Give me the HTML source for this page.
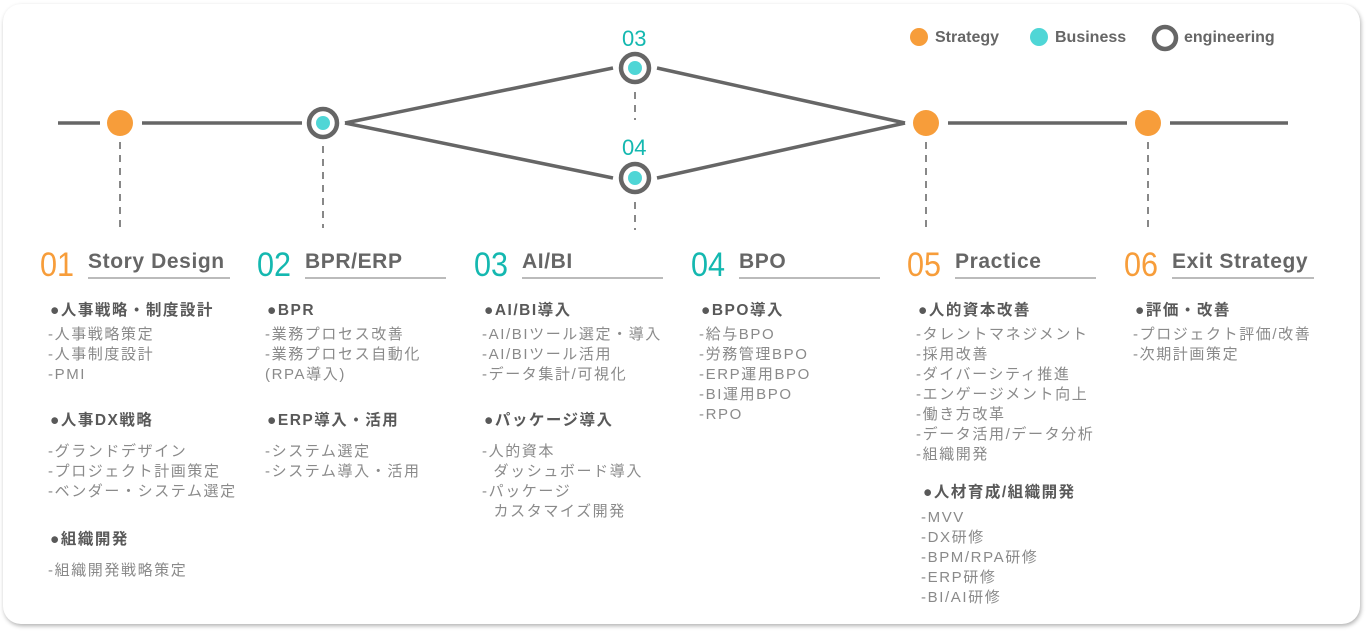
<!DOCTYPE html>
<html><head><meta charset="utf-8"><style>
body{margin:0;background:#fff;width:1372px;height:634px;position:relative;overflow:hidden;font-family:"Liberation Sans","Noto Sans CJK JP",sans-serif}
.card{position:absolute;left:3px;top:4px;width:1357px;height:620px;border-radius:18px;background:#fff;box-shadow:1px 2px 4px rgba(0,0,0,.3)}
.t{position:absolute;white-space:nowrap;font-size:15px;line-height:20px}
.h{color:#595959;font-weight:bold;letter-spacing:1.5px;font-size:15.5px}
.i{color:#8a8a8a;letter-spacing:1.6px}
.num{position:absolute;font-size:34px;line-height:36px;top:247px;transform:scaleX(.9);transform-origin:left}
.ttl{position:absolute;top:248px;font-size:21px;font-weight:bold;color:#666;border-bottom:2px solid #bbb;height:29px;line-height:28px;letter-spacing:.6px}
.o{color:#f79d3a}.c{color:#14b8b0}
.lg{position:absolute;top:28px;font-size:16px;font-weight:bold;color:#666;line-height:20px}
</style></head><body>
<div class="card"></div>
<svg style="position:absolute;left:0;top:0" width="1372" height="634">
<g stroke="#666" stroke-width="3.5" fill="none">
<line x1="58" y1="123" x2="100" y2="123"/><line x1="142" y1="123" x2="302" y2="123"/>
<line x1="948" y1="123" x2="1127" y2="123"/><line x1="1170" y1="123" x2="1288" y2="123"/>
<line x1="345" y1="123" x2="613" y2="68"/><line x1="345" y1="123" x2="613" y2="178"/>
<line x1="657" y1="68" x2="905" y2="123"/><line x1="657" y1="178" x2="905" y2="123"/>
</g>
<g stroke="#888" stroke-width="2" stroke-dasharray="7,6">
<line x1="120" y1="142" x2="120" y2="230"/><line x1="323" y1="146" x2="323" y2="228"/>
<line x1="635" y1="92" x2="635" y2="120"/><line x1="635" y1="202" x2="635" y2="230"/>
<line x1="926" y1="142" x2="926" y2="230"/><line x1="1148" y1="142" x2="1148" y2="230"/>
</g>
<g fill="#f79d3a"><circle cx="120" cy="123" r="13"/><circle cx="926" cy="123" r="13"/><circle cx="1148" cy="123" r="13"/><circle cx="919" cy="37" r="9"/></g>
<g fill="#fff" stroke="#666" stroke-width="4.5"><circle cx="323" cy="123" r="14"/><circle cx="635" cy="68" r="14"/><circle cx="635" cy="178" r="14"/><circle cx="1165" cy="38" r="11"/></g>
<g fill="#4fd6d6"><circle cx="323" cy="123" r="7"/><circle cx="635" cy="68" r="7"/><circle cx="635" cy="178" r="7"/><circle cx="1039" cy="37" r="9"/></g>
</svg>
<div class="lg" style="left:935px">Strategy</div>
<div class="lg" style="left:1055px">Business</div>
<div class="lg" style="left:1184px">engineering</div>
<div class="t c" style="left:622px;top:28px;font-size:22px;line-height:22px">03</div>
<div class="t c" style="left:622px;top:137px;font-size:22px;line-height:22px">04</div>

<div class="num o" style="left:40px">01</div><div class="ttl" style="left:88px;width:142px">Story Design</div>
<div class="num c" style="left:257px">02</div><div class="ttl" style="left:305px;width:141px">BPR/ERP</div>
<div class="num c" style="left:474px">03</div><div class="ttl" style="left:522px;width:141px">AI/BI</div>
<div class="num c" style="left:691px">04</div><div class="ttl" style="left:739px;width:141px">BPO</div>
<div class="num o" style="left:907px">05</div><div class="ttl" style="left:955px;width:141px">Practice</div>
<div class="num o" style="left:1124px">06</div><div class="ttl" style="left:1172px;width:142px">Exit Strategy</div>

<div class="t h" style="left:50px;top:301px">●人事戦略・制度設計</div>
<div class="t i" style="left:48px;top:325px">-人事戦略策定<br>-人事制度設計<br>-PMI</div>
<div class="t h" style="left:50px;top:411px">●人事DX戦略</div>
<div class="t i" style="left:48px;top:442px">-グランドデザイン<br>-プロジェクト計画策定<br>-ベンダー・システム選定</div>
<div class="t h" style="left:50px;top:530px">●組織開発</div>
<div class="t i" style="left:48px;top:561px">-組織開発戦略策定</div>

<div class="t h" style="left:267px;top:301px">●BPR</div>
<div class="t i" style="left:265px;top:325px">-業務プロセス改善<br>-業務プロセス自動化<br>(RPA導入)</div>
<div class="t h" style="left:267px;top:411px">●ERP導入・活用</div>
<div class="t i" style="left:265px;top:442px">-システム選定<br>-システム導入・活用</div>

<div class="t h" style="left:484px;top:301px">●AI/BI導入</div>
<div class="t i" style="left:482px;top:325px">-AI/BIツール選定・導入<br>-AI/BIツール活用<br>-データ集計/可視化</div>
<div class="t h" style="left:484px;top:411px">●パッケージ導入</div>
<div class="t i" style="left:482px;top:442px">-人的資本<br>&nbsp;&nbsp;ダッシュボード導入<br>-パッケージ<br>&nbsp;&nbsp;カスタマイズ開発</div>

<div class="t h" style="left:701px;top:301px">●BPO導入</div>
<div class="t i" style="left:699px;top:325px">-給与BPO<br>-労務管理BPO<br>-ERP運用BPO<br>-BI運用BPO<br>-RPO</div>

<div class="t h" style="left:918px;top:301px">●人的資本改善</div>
<div class="t i" style="left:916px;top:325px">-タレントマネジメント<br>-採用改善<br>-ダイバーシティ推進<br>-エンゲージメント向上<br>-働き方改革<br>-データ活用/データ分析<br>-組織開発</div>
<div class="t h" style="left:923px;top:483px">●人材育成/組織開発</div>
<div class="t i" style="left:921px;top:508px">-MVV<br>-DX研修<br>-BPM/RPA研修<br>-ERP研修<br>-BI/AI研修</div>

<div class="t h" style="left:1135px;top:301px">●評価・改善</div>
<div class="t i" style="left:1133px;top:325px">-プロジェクト評価/改善<br>-次期計画策定</div>
</body></html>
